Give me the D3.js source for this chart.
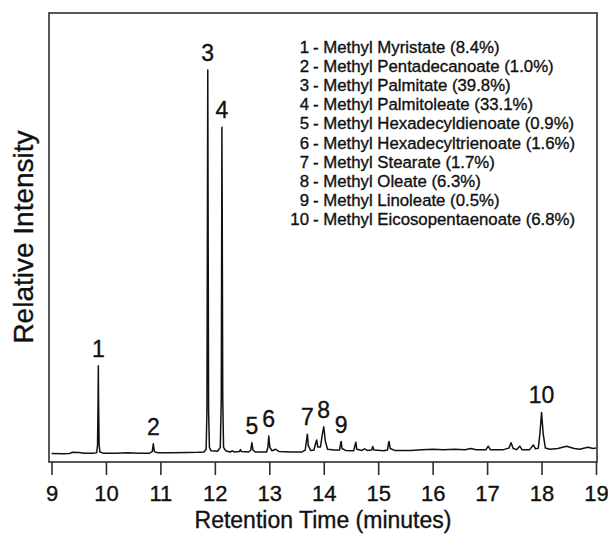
<!DOCTYPE html>
<html>
<head>
<meta charset="utf-8">
<script src="https://cdn.jsdelivr.net/npm/d3@7"></script>
<style>
  html, body { margin: 0; padding: 0; background: #fff; }
  svg { display: block; font-family: "Liberation Sans", Arial, Helvetica, sans-serif; }
  text { stroke: #111; stroke-width: 0.35px; }
</style>
</head>
<body>
<svg id="chart" width="608" height="538"></svg>
<script>
// Chromatogram trace: [retention time (min), relative intensity]
const trace = [
  [9.00,0.9],[9.20,0.85],[9.33,0.9],[9.38,1.2],[9.50,1.15],[9.60,1.0],[9.78,1.0],
  [9.83,1.1],[9.845,3],[9.855,14],[9.86,23.6],[9.865,14],[9.875,3],[9.89,1.3],
  [9.95,1.0],[10.20,0.95],[10.40,1.1],[10.60,1.0],[10.80,1.0],[10.85,1.4],[10.87,3.4],
  [10.89,1.4],[10.95,1.1],[11.20,1.1],[11.50,1.15],[11.70,1.2],[11.80,1.3],[11.84,2.0],
  [11.855,12],[11.865,70],[11.87,100],[11.875,70],[11.885,12],[11.90,2.5],[11.93,1.6],
  [12.05,1.5],[12.10,2.5],[12.118,15],[12.127,65],[12.13,85.2],[12.135,65],[12.145,15],
  [12.16,2.5],[12.20,1.6],[12.28,1.3],[12.32,1.6],[12.36,1.3],[12.45,1.4],[12.47,1.9],
  [12.49,1.4],[12.62,1.3],[12.66,1.8],[12.68,3.7],[12.70,1.8],[12.74,1.3],[12.95,1.3],
  [12.975,2.5],[12.99,5.4],[13.01,2.5],[13.05,1.6],[13.12,2.0],[13.18,1.4],[13.40,1.3],
  [13.60,1.3],[13.66,1.8],[13.69,5.0],[13.70,5.9],[13.715,3.0],[13.76,1.7],[13.82,1.8],
  [13.85,3.5],[13.87,4.4],[13.89,2.6],[13.94,2.6],[13.97,5.5],[14.00,7.8],[14.03,4.0],
  [14.07,2.0],[14.20,1.8],[14.29,1.8],[14.31,3.5],[14.32,4.0],[14.335,2.2],[14.40,1.7],
  [14.55,1.6],[14.58,3.4],[14.59,3.8],[14.605,2.0],[14.70,1.7],[14.75,2.1],[14.80,1.7],
  [14.88,1.8],[14.90,2.7],[14.92,1.8],[15.10,1.6],[15.17,1.8],[15.19,3.6],[15.20,4.0],
  [15.22,2.2],[15.30,1.7],[15.60,1.7],[15.80,1.9],[16.00,2.0],[16.20,1.9],[16.40,2.0],
  [16.60,1.9],[16.70,2.2],[16.80,1.9],[16.98,1.9],[17.02,2.8],[17.06,1.9],[17.30,1.9],
  [17.40,2.3],[17.44,3.7],[17.48,2.2],[17.54,1.9],[17.60,2.8],[17.64,1.9],[17.78,1.9],
  [17.85,3.1],[17.89,2.1],[17.94,2.3],[17.97,6],[18.00,11.5],[18.03,6],[18.07,2.3],
  [18.15,2.0],[18.30,2.2],[18.46,2.8],[18.60,2.2],[18.70,2.0],[18.85,2.5],[18.95,2.2],
  [19.00,2.3]
];

// Numbered peaks: apex time and apex intensity
const peakIds     = [1, 2, 3, 4, 5, 6, 7, 8, 9, 10];
const peakTimes   = [9.86, 10.87, 11.87, 12.13, 12.68, 12.99, 13.70, 14.00, 14.32, 18.00];
const peakHeights = [23.6, 3.4, 100, 85.2, 3.7, 5.4, 5.9, 7.8, 4.0, 11.5];

// Compound key
const compounds = [
  "Methyl Myristate", "Methyl Pentadecanoate", "Methyl Palmitate", "Methyl Palmitoleate",
  "Methyl Hexadecyldienoate", "Methyl Hexadecyltrienoate", "Methyl Stearate",
  "Methyl Oleate", "Methyl Linoleate", "Methyl Eicosopentaenoate"
];
const percents = ["8.4%", "1.0%", "39.8%", "33.1%", "0.9%", "1.6%", "1.7%", "6.3%", "0.5%", "6.8%"];

const xTicks = [9, 10, 11, 12, 13, 14, 15, 16, 17, 18, 19];

const svg = d3.select("#chart");
const frame = { left: 49, top: 13, right: 597, bottom: 462 };

const x = d3.scaleLinear().domain([9, 19]).range([51.5, 596]);
const y = d3.scaleLinear().domain([0, 100]).range([457, 70]);

// Plot frame
svg.append("rect")
  .attr("x", frame.left).attr("y", frame.top)
  .attr("width", frame.right - frame.left)
  .attr("height", frame.bottom - frame.top)
  .attr("fill", "none").attr("stroke", "#2e2e2e").attr("stroke-width", 1.6);

// Bottom axis with outward ticks
const xAxis = d3.axisBottom(x).tickValues(xTicks).tickFormat(d3.format("d"))
  .tickSize(13).tickPadding(10).tickSizeOuter(0);
const gx = svg.append("g").attr("transform", `translate(0,${frame.bottom})`).call(xAxis);
gx.select(".domain").remove();
gx.selectAll(".tick line").attr("stroke", "#2e2e2e").attr("stroke-width", 1.6);
gx.selectAll(".tick text").attr("fill", "#111").attr("font-size", 22)
  .attr("font-family", "'Liberation Sans', Arial, sans-serif");

// Trace
const line = d3.line().x(d => x(d[0])).y(d => y(d[1]));
svg.append("path").datum(trace)
  .attr("d", line).attr("fill", "none")
  .attr("stroke", "#111").attr("stroke-width", 1.5).attr("stroke-linejoin", "round");

// Peak numbers
svg.append("g").selectAll("text").data(peakIds).join("text")
  .attr("x", (d, i) => x(peakTimes[i]))
  .attr("y", (d, i) => y(peakHeights[i]) - 9)
  .attr("text-anchor", "middle").attr("font-size", 23).attr("fill", "#111")
  .text(d => d);

// Compound key
const key = svg.append("g").attr("font-size", 16.8).attr("fill", "#111");
key.selectAll("text.num").data(peakIds).join("text").attr("class", "num")
  .attr("x", 309).attr("y", (d, i) => 53 + i * 19.1)
  .attr("text-anchor", "end").text(d => d);
key.selectAll("text.name").data(compounds).join("text").attr("class", "name")
  .attr("x", 313).attr("y", (d, i) => 53 + i * 19.1)
  .text((d, i) => `- ${d} (${percents[i]})`);

// Axis titles
svg.append("text").attr("x", 323).attr("y", 528).attr("text-anchor", "middle")
  .attr("font-size", 23).attr("fill", "#111").text("Retention Time (minutes)");
svg.append("text").attr("transform", "translate(33,237) rotate(-90)")
  .attr("text-anchor", "middle").attr("font-size", 28).attr("fill", "#111")
  .text("Relative Intensity");
</script>
</body>
</html>
